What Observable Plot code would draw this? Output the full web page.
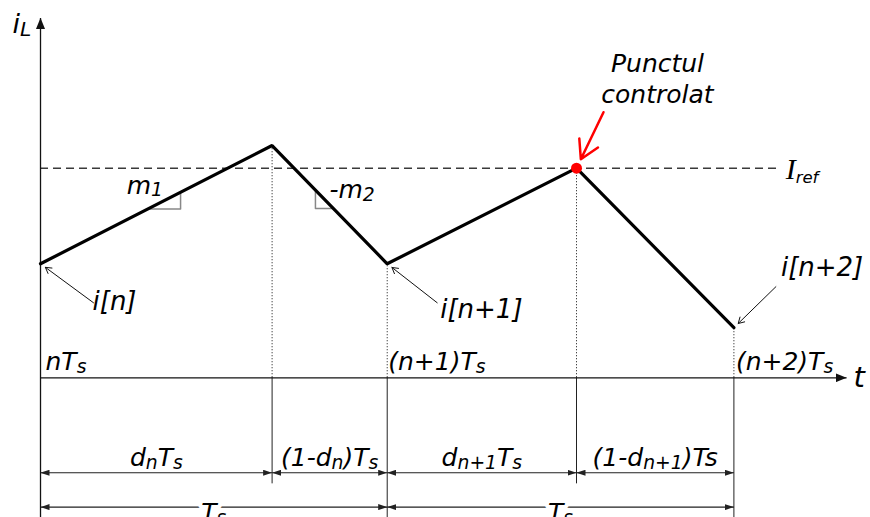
<!DOCTYPE html>
<html>
<head>
<meta charset="utf-8">
<script src="https://cdn.jsdelivr.net/npm/d3@7"></script>
<script src="https://cdn.jsdelivr.net/npm/@observablehq/plot@0.6"></script>
<style>
  body { margin: 0; background: #fff; }
  #chart svg { display: block; }
</style>
</head>
<body>
<div id="chart"></div>
<script>
// Inductor current under current-mode control.
// Time is in units of the switching period Ts, current in units of I_ref.
const edgeTimes    = [0, 0.668, 1, 1.546, 2];
const edgeCurrents = [0.544, 1.108, 0.544, 1.0, 0.239];
const Iref = 1;

const periodTimes  = [0, 1, 2];
const periodLabels = ["nT_{s}", "(n+1)T_{s}", "(n+2)T_{s}"];
const sampleIndex  = [0, 2, 4];
const sampleLabels = ["i[n]", "i[n+1]", "i[n+2]"];
const intervalLabels   = ["d_{n}T_{s}", "(1-d_{n})T_{s}", "d_{n+1}T_{s}", "(1-d_{n+1})Ts"];
const periodSpanLabels = ["T_{s}", "T_{s}"];
const controlledIndex  = 3;
const controlledLabel  = "Punctul\ncontrolat";
const slopeLabels      = ["m_{1}", "-m_{2}"];
const axisLabels       = {y: "i_{L}", x: "t", ref: "I_{ref}"};

// ---- layout ----
const W = 870, H = 517;
const xDomain = [-0.1154, 2.394];
const yDomain = [-0.6665, 1.800];
const kx = W / (xDomain[1] - xDomain[0]);
const ky = H / (yDomain[1] - yDomain[0]);
const px = (d) => d / kx;    // pixels -> time units
const py = (d) => -d / ky;   // pixels (downwards) -> current units

const L = {
  yAxisTop: 1.717,
  xAxisEnd: 2.325,
  irefEnd: 2.129,
  row1: -0.453,
  row2: -0.617,
  dutyTickBottom: -0.506
};

const font = "DejaVu Sans";
// stroke colours that also tag the groups which get filled arrowheads
const axisInk = "#121212";
const spanInk = "#202020";

// ---- derived tables ----
const wave = edgeTimes.map((t, k) => ({t, i: edgeCurrents[k]}));
const onSegment = (k, t) => {
  const a = wave[k], b = wave[k + 1];
  return a.i + (b.i - a.i) * (t - a.t) / (b.t - a.t);
};

// slope markers: rising edge (horizontal then vertical), falling edge (vertical then horizontal)
const r0 = 0.309, r1 = 0.404;
const riseTri = [
  {t: r0, i: onSegment(0, r0)},
  {t: r1, i: onSegment(0, r0)},
  {t: r1, i: onSegment(0, r1)}
];
const f0 = 0.793, f1 = 0.845;
const fallTri = [
  {t: f0, i: onSegment(1, f0)},
  {t: f0, i: onSegment(1, f1)},
  {t: f1, i: onSegment(1, f1)}
];

const sampleOffsets = [
  {ax: 53, ay: 39, lx: 52, ly: 38},
  {ax: 50, ay: 39, lx: 53, ly: 46},
  {ax: 42, ay: -41, lx: 47, ly: -60}
];
const samples = sampleIndex.map((k, j) => ({...wave[k], label: sampleLabels[j], ...sampleOffsets[j]}));
const controlled = wave[controlledIndex];

const rowSpans = edgeTimes.slice(1).map((t, k) => ({a: edgeTimes[k], b: t, label: intervalLabels[k]}));
const periodSpans = periodTimes.slice(1).map((t, k) => ({a: periodTimes[k], b: t, label: periodSpanLabels[k]}));
const periodTicks = periodTimes.map((t, k) => ({t, label: periodLabels[k], dx: [5, 1, 2][k]}));

const chart = Plot.plot({
  width: W,
  height: H,
  margin: 0,
  x: {domain: xDomain, axis: null},
  y: {domain: yDomain, axis: null},
  marks: [
    // dotted projections from switching instants onto the time axis
    Plot.ruleX(wave.slice(1), {x: "t", y1: 0, y2: "i", stroke: "#333", strokeWidth: 1, strokeDasharray: "1.2,1.8"}),
    // boundaries under the time axis
    Plot.ruleX(periodTimes, {x: (d) => d, y1: yDomain[0], y2: 0, stroke: "#222", strokeWidth: 1}),
    Plot.ruleX([wave[1], wave[3]], {x: "t", y1: L.dutyTickBottom, y2: 0, stroke: "#222", strokeWidth: 1}),
    // reference level
    Plot.ruleY([Iref], {x1: 0, x2: L.irefEnd, stroke: "#3a3a3a", strokeWidth: 1.4, strokeDasharray: "8,5"}),
    // axes with filled heads
    Plot.link(
      [{x1: 0, y1: yDomain[0], x2: 0, y2: L.yAxisTop}, {x1: 0, y1: 0, x2: L.xAxisEnd, y2: 0}],
      {x1: "x1", y1: "y1", x2: "x2", y2: "y2", stroke: axisInk, strokeWidth: 1.3}
    ),
    // interval dimensions
    Plot.link(rowSpans, {x1: "a", x2: "b", y1: L.row1, y2: L.row1, stroke: spanInk, strokeWidth: 1.2}),
    Plot.link(periodSpans, {x1: "a", x2: "b", y1: L.row2, y2: L.row2, stroke: spanInk, strokeWidth: 1.2}),
    // slope markers
    Plot.line(riseTri, {x: "t", y: "i", stroke: "#888", strokeWidth: 1.5}),
    Plot.line(fallTri, {x: "t", y: "i", stroke: "#888", strokeWidth: 1.5}),
    // inductor current
    Plot.line(wave, {x: "t", y: "i", stroke: "#000", strokeWidth: 3.2, strokeLinejoin: "miter"}),
    // sample annotations
    Plot.arrow(samples, {
      x1: (d) => d.t + px(d.ax), y1: (d) => d.i + py(d.ay), x2: "t", y2: "i",
      stroke: "#111", strokeWidth: 1, headLength: 10, insetEnd: 6
    }),
    Plot.text(samples, {
      x: (d) => d.t + px(d.lx), y: (d) => d.i + py(d.ly), text: "label",
      textAnchor: "start", fontSize: 26, fontStyle: "italic", fontFamily: font, fill: "#000"
    }),
    // controlled point
    Plot.arrow([controlled], {
      x1: (d) => d.t + px(27), y1: (d) => d.i + py(-56), x2: "t", y2: "i",
      stroke: "#f00", strokeWidth: 2.5, headLength: 15, insetEnd: 10
    }),
    Plot.dot([controlled], {x: "t", y: "i", r: 5.5, fill: "#f00"}),
    Plot.text([controlled], {
      x: "t", y: "i", text: () => controlledLabel, dx: 81, dy: -91, lineHeight: 1.25,
      fontSize: 25, fontStyle: "italic", fontFamily: font, fill: "#000"
    }),
    // slope labels
    Plot.text([riseTri[0]], {
      x: "t", y: "i", text: () => slopeLabels[0], dx: -21, dy: -15.5,
      textAnchor: "start", lineAnchor: "bottom", fontSize: 25, fontStyle: "italic", fontFamily: font
    }),
    Plot.text([fallTri[0]], {
      x: "t", y: "i", text: () => slopeLabels[1], dx: 14, dy: 8,
      textAnchor: "start", lineAnchor: "bottom", fontSize: 25, fontStyle: "italic", fontFamily: font
    }),
    // reference label
    Plot.text([Iref], {
      x: L.irefEnd, y: (d) => d, text: () => axisLabels.ref, dx: 7, dy: 11,
      textAnchor: "start", lineAnchor: "bottom", fontSize: 30, fontStyle: "italic",
      fontFamily: "Liberation Serif"
    }),
    // axis names
    Plot.text([L.yAxisTop], {
      x: 0, y: (d) => d, text: () => axisLabels.y, dx: -28, dy: 15,
      textAnchor: "start", lineAnchor: "bottom", fontSize: 27, fontStyle: "italic", fontFamily: font
    }),
    Plot.text([L.xAxisEnd], {
      x: (d) => d, y: 0, text: () => axisLabels.x, dx: 7, dy: 9,
      textAnchor: "start", lineAnchor: "bottom", fontSize: 29, fontStyle: "italic", fontFamily: font
    }),
    // period instants
    ...periodTicks.map((d) => Plot.text([d], {
      x: "t", y: 0, text: "label", dx: d.dx, dy: -8,
      textAnchor: "start", lineAnchor: "bottom", fontSize: 25, fontStyle: "italic", fontFamily: font
    })),
    // interval names
    Plot.text(rowSpans, {
      x: (d) => (d.a + d.b) / 2, y: L.row1, text: "label", dy: -7,
      lineAnchor: "bottom", fontSize: 25, fontStyle: "italic", fontFamily: font
    }),
    Plot.text(periodSpans, {
      x: (d) => (d.a + d.b) / 2, y: L.row2, text: "label", dy: 14,
      lineAnchor: "bottom", fontSize: 25, fontStyle: "italic", fontFamily: font,
      stroke: "#fff", strokeWidth: 8, paintOrder: "stroke", fill: "#000"
    })
  ]
});

document.getElementById("chart").append(chart);

// ---- filled arrowheads ----
const svg = d3.select(chart);
const defs = svg.insert("defs", ":first-child");
function head(id, len, wid, color) {
  const m = defs.append("marker")
    .attr("id", id)
    .attr("viewBox", "0 0 10 10")
    .attr("refX", 10).attr("refY", 5)
    .attr("markerWidth", len).attr("markerHeight", wid)
    .attr("markerUnits", "userSpaceOnUse")
    .attr("preserveAspectRatio", "none")
    .attr("orient", "auto-start-reverse");
  m.append("path").attr("d", "M0,0L10,5L0,10Z").attr("fill", color);
}
head("head-axis", 11, 9, "#111");
head("head-span", 9, 6, "#222");
svg.selectAll(`g[stroke="${axisInk}"] path`).attr("marker-end", "url(#head-axis)");
svg.selectAll(`g[stroke="${spanInk}"] path`)
  .attr("marker-start", "url(#head-span)")
  .attr("marker-end", "url(#head-span)");

// ---- subscripts: "_{...}" becomes a lowered, smaller tspan ----
const subStyle = {
  sans: {scale: 0.75, shift: 0.15},
  serif: {scale: 0.55, shift: 0.25, family: "DejaVu Sans"}
};
function richText(el, {scale, shift, family}) {
  const s = el.textContent;
  if (!s.includes("_") || el.querySelector("tspan")) return;
  const parts = [];
  const re = /_\{([^}]*)\}|_(.)|([^_]+)/g;
  let m;
  while ((m = re.exec(s))) {
    if (m[3] !== undefined) parts.push({text: m[3], sub: false});
    else parts.push({text: m[1] !== undefined ? m[1] : m[2], sub: true});
  }
  el.textContent = "";
  let prevSub = false;
  for (const p of parts) {
    const ts = document.createElementNS("http://www.w3.org/2000/svg", "tspan");
    ts.textContent = p.text;
    if (p.sub) {
      ts.setAttribute("font-size", `${scale * 100}%`);
      ts.setAttribute("dy", `${shift}em`);
      if (family) ts.setAttribute("font-family", family);
    } else if (prevSub) {
      ts.setAttribute("dy", `${-shift * scale}em`);
    }
    el.appendChild(ts);
    prevSub = p.sub;
  }
}
svg.selectAll("text").each(function () {
  const g = this.closest("g[font-family]");
  const serif = g && /Serif/.test(g.getAttribute("font-family"));
  richText(this, serif ? subStyle.serif : subStyle.sans);
});
</script>
</body>
</html>
